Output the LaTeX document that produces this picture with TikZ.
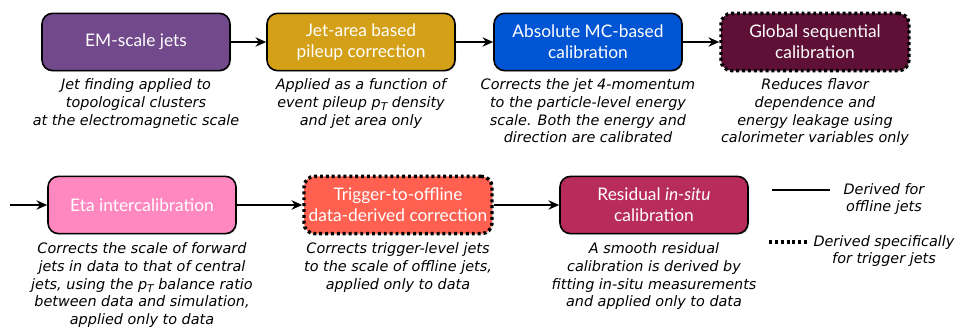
\documentclass[tikz,border=0pt]{standalone}
\usepackage{fontspec}
\usepackage{xcolor}
\usepackage{tikz}
\usetikzlibrary{arrows.meta,shadows}
\setmainfont{DejaVu Sans}
\newfontfamily\boxfont{Lato}
\definecolor{emviolet}{RGB}{114,74,140}
\definecolor{pugold}{RGB}{212,160,23}
\definecolor{mcblue}{RGB}{0,85,212}
\definecolor{gscmaroon}{RGB}{94,16,54}
\definecolor{etapink}{RGB}{255,136,192}
\definecolor{trigcoral}{RGB}{255,96,80}
\definecolor{insitured}{RGB}{184,44,92}
\newcommand{\pT}{\textit{p}\raisebox{-0.45ex}{\footnotesize\itshape T}}

\begin{document}
\begin{tikzpicture}[x=0.75pt, y=-0.75pt,
    stage/.style={draw=black, line width=1.2pt, rectangle, rounded corners=8pt,
      minimum width=141pt, minimum height=43pt, align=center, text=white,
      font=\boxfont\fontsize{13}{15.5}\selectfont,
      drop shadow={opacity=0.35, shadow xshift=0.8pt, shadow yshift=-0.8pt}},
    trigstage/.style={stage, line width=2.6pt, dash pattern=on 2.2pt off 2.2pt},
    note/.style={align=center, font=\fontsize{10.8}{13.3}\selectfont\itshape},
    flow/.style={line width=1.6pt, -{Stealth[length=8pt, width=7pt]}}]
  \useasboundingbox (0,0) rectangle (958,331);

  % first row: offline calibration chain
  \node[stage, fill=emviolet] (em) at (136,42) {EM-scale jets};
  \node[stage, fill=pugold] (pu) at (361,42) {Jet-area based\\pileup correction};
  \node[stage, fill=mcblue] (mc) at (588,42) {Absolute MC-based\\calibration};
  \node[trigstage, fill=gscmaroon] (gsc) at (815,42) {Global sequential\\calibration};

  \node[note, anchor=north] (emtxt) at (136,74)
    {Jet finding applied to\\topological clusters\\at the electromagnetic scale};
  \node[note, anchor=north] (putxt) at (361,74)
    {Applied as a function of\\event pileup \pT{} density\\and jet area only};
  \node[note, anchor=north] (mctxt) at (588,74)
    {Corrects the jet 4-momentum\\to the particle-level energy\\scale. Both the energy and\\direction are calibrated};
  \node[note, anchor=north] (gsctxt) at (815,74)
    {Reduces flavor\\dependence and\\energy leakage using\\calorimeter variables only};

  % second row: data-driven steps
  \coordinate (entry) at (10,205);
  \node[stage, fill=etapink] (eta) at (142,205) {Eta intercalibration};
  \node[trigstage, fill=trigcoral] (trig) at (398,205) {Trigger-to-offline\\data-derived correction};
  \node[stage, fill=insitured] (insitu) at (654,205) {Residual \textit{in-situ}\\calibration};

  \node[note, anchor=north] (etatxt) at (142,238)
    {Corrects the scale of forward\\jets in data to that of central\\jets, using the \pT{} balance ratio\\between data and simulation,\\applied only to data};
  \node[note, anchor=north] (trigtxt) at (398,238)
    {Corrects trigger-level jets\\to the scale of offline jets,\\applied only to data};
  \node[note, anchor=north] (insitutxt) at (654,238)
    {A smooth residual\\calibration is derived by\\fitting in-situ measurements\\and applied only to data};

  \draw[flow] (em) -- (pu);
  \draw[flow] (pu) -- (mc);
  \draw[flow] (mc) -- (gsc);
  \draw[flow] (entry) -- (eta);
  \draw[flow] (eta) -- (trig);
  \draw[flow] (trig) -- (insitu);

  % legend
  \coordinate (solida) at (772,190);
  \coordinate (solidb) at (830,190);
  \coordinate (dota) at (769,242);
  \coordinate (dotb) at (808,242);
  \draw[line width=1.2pt] (solida) -- (solidb);
  \draw[line width=2.6pt, dash pattern=on 2.2pt off 2.2pt] (dota) -- (dotb);
  \node[note] (solidtxt) at (884,199) {Derived for\\offline jets};
  \node[note] (dottxt) at (884,251) {Derived specifically\\for trigger jets};
\end{tikzpicture}
\end{document}
